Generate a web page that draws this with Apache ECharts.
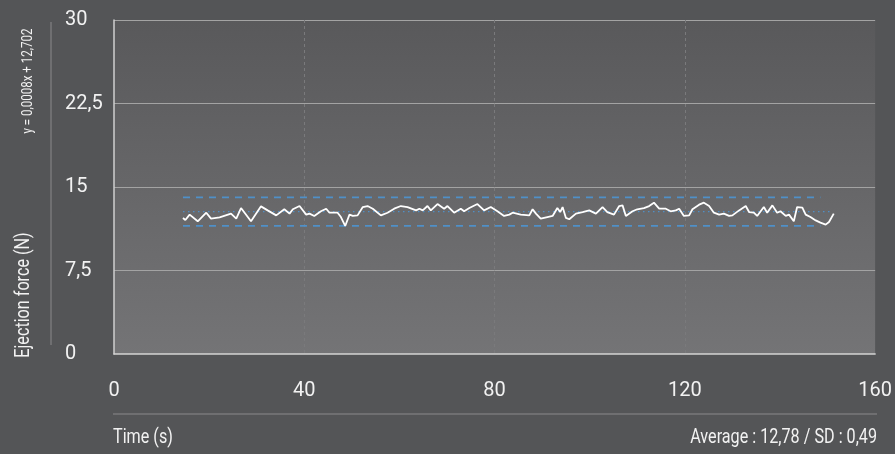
<!DOCTYPE html>
<html>
<head>
<meta charset="utf-8">
<script src="https://cdn.jsdelivr.net/npm/echarts@6/dist/echarts.min.js"></script>
<style>
  html, body { margin: 0; padding: 0; background: #545557; }
  #chart { width: 895px; height: 454px; }
</style>
</head>
<body>
<div id="chart"></div>
<script>
// Ejection force sampled over time (s, N)
const times = [
  14.5, 15.0, 15.9, 17.6, 19.4, 20.4, 22.2, 24.6, 25.7, 26.7, 28.8, 30.9, 32.3, 34.1, 35.8, 36.9,
  37.6, 39.0, 40.4, 41.1, 42.1, 43.5, 44.6, 45.3, 47.0, 47.7, 48.6, 49.5, 50.2, 51.2, 52.3, 53.3, 54.4, 56.1, 57.5, 58.9, 60.3,
  61.7, 63.5, 64.2, 64.9, 65.9, 66.6, 68.0, 69.4, 70.1, 71.5, 72.9, 73.6, 74.7, 76.4, 77.8, 79.2, 80.6, 82.0, 83.1, 83.8,
  85.5, 87.3, 88.0, 88.7, 89.7, 91.1, 92.2, 93.2, 93.8, 94.3, 95.0, 95.7, 97.1, 98.5, 99.9, 101.3, 102.7, 103.7, 105.1, 106.2, 106.9,
  107.6, 109.0, 110.0, 111.4, 112.5, 113.5, 114.6, 116.0, 117.0, 118.1, 118.8, 119.8, 120.9, 121.6, 123.0, 124.0, 125.1, 126.1, 127.2, 128.2, 129.3, 130.0,
  131.4, 132.8, 133.5, 134.5, 135.2, 136.6, 137.3, 138.4, 139.4, 140.1, 141.2, 141.9, 142.9, 143.6, 144.7, 145.4, 146.4, 147.5, 148.5, 149.6, 150.3, 151.3
];
const forces = [
  12.22, 12.04, 12.52, 11.92, 12.69, 12.16, 12.28, 12.61, 12.16, 13.11, 11.92, 13.26, 12.90, 12.45, 13.00, 12.61,
  13.00, 13.29, 12.52, 12.61, 12.40, 12.82, 13.05, 12.69, 12.69, 12.30, 11.50, 12.52, 12.40, 12.45, 13.20, 13.29, 13.05, 12.45, 12.69, 13.05, 13.29,
  13.20, 12.90, 13.05, 12.90, 13.29, 12.90, 13.47, 13.05, 13.29, 12.69, 13.05, 12.82, 13.11, 13.47, 12.90, 13.20, 12.82, 12.40, 12.52, 12.69,
  12.52, 12.45, 13.00, 12.61, 12.16, 12.30, 12.40, 13.11, 12.75, 13.20, 12.22, 12.10, 12.61, 12.75, 12.90, 12.61, 13.20, 12.75, 12.52, 13.29, 13.35,
  12.40, 12.82, 13.00, 13.11, 13.29, 13.59, 13.05, 13.05, 12.82, 12.90, 13.05, 12.40, 12.45, 13.00, 13.41, 13.59, 13.29, 12.69, 12.52, 12.61, 12.40, 12.45,
  12.90, 13.29, 12.75, 12.69, 12.40, 13.20, 12.69, 13.35, 12.69, 12.82, 12.40, 12.52, 11.92, 13.20, 13.14, 12.52, 12.30, 12.00, 11.80, 11.62, 11.86, 12.61
];

// Summary statistics and tolerance band (average ± 10 %)
const average = 12.78;
const sd = 0.49;
const upperLimit = 14.06;
const lowerLimit = 11.50;
const bandTimes = [14.5, 148.5];
const averageTimes = [14.5, 151.0];

// Axis ticks
const xTicks = [0, 40, 80, 120, 160];
const yTicks = [0, 7.5, 15, 22.5, 30];

const trendText = 'y = 0,0008x + 12,702';
const yTitle = 'Ejection force (N)';
const xTitle = 'Time (s)';
const statsText = 'Average : ' + average.toFixed(2).replace('.', ',') + ' / SD : ' + sd.toFixed(2).replace('.', ',');

const FAMILY = 'Roboto, "Liberation Sans", sans-serif';
const TEXT = '#f2f2f2';
const NARROW = 0.77; // horizontal squeeze for a condensed look
const fmt = v => String(v).replace('.', ',');
const font = size => size + 'px ' + FAMILY;

const chart = echarts.init(document.getElementById('chart'), null, { renderer: 'canvas' });

chart.setOption({
  backgroundColor: '#545557',
  animation: false,
  grid: {
    left: 114, right: 18, top: 20, bottom: 100,
    show: true,
    borderWidth: 0,
    backgroundColor: new echarts.graphic.LinearGradient(0, 0, 0, 1, [
      { offset: 0, color: '#59595b' },
      { offset: 1, color: '#747476' }
    ])
  },
  xAxis: {
    type: 'value',
    min: xTicks[0], max: xTicks[xTicks.length - 1], interval: 40,
    axisLine: { show: true, lineStyle: { color: '#d4d4d4', width: 1.5 } },
    axisTick: { show: false },
    splitLine: {
      show: true, showMinLine: false, showMaxLine: false,
      lineStyle: { color: '#7a7a7c', type: [3, 3], width: 1 }
    },
    axisLabel: {
      color: TEXT, fontFamily: FAMILY, fontSize: 20, margin: 27,
      formatter: v => fmt(v)
    }
  },
  yAxis: {
    type: 'value',
    min: yTicks[0], max: yTicks[yTicks.length - 1], interval: 7.5,
    axisLine: { show: true, lineStyle: { color: '#cfcfcf', width: 1.5 } },
    axisTick: { show: false },
    splitLine: { show: true, showMinLine: false, lineStyle: { color: '#a3a3a3', width: 1 } },
    axisLabel: {
      color: TEXT, fontFamily: FAMILY, fontSize: 20, margin: 49, align: 'left',
      formatter: v => fmt(v)
    }
  },
  series: [
    {
      name: 'upper',
      type: 'line',
      data: bandTimes.map(t => [t, upperLimit]),
      symbol: 'none',
      lineStyle: { color: '#4f90c8', width: 1.8, type: [7, 6] },
      silent: true
    },
    {
      name: 'lower',
      type: 'line',
      data: bandTimes.map(t => [t, lowerLimit]),
      symbol: 'none',
      lineStyle: { color: '#4f90c8', width: 1.8, type: [7, 6] },
      silent: true
    },
    {
      name: 'average',
      type: 'line',
      data: averageTimes.map(t => [t, average]),
      symbol: 'none',
      lineStyle: { color: '#4f90c8', width: 1.2, type: [1.5, 3.5] },
      silent: true
    },
    {
      name: 'force',
      type: 'line',
      data: times.map((t, i) => [t, forces[i]]),
      symbol: 'none',
      lineStyle: { color: '#ffffff', width: 1.8 },
      z: 5
    }
  ],
  graphic: [
    { type: 'line', shape: { x1: 51, y1: 22, x2: 51, y2: 345 }, style: { stroke: '#8a8a8c', lineWidth: 1 } },
    { type: 'line', shape: { x1: 113, y1: 414, x2: 877, y2: 414 }, style: { stroke: '#8a8a8c', lineWidth: 1 } },
    {
      type: 'text', x: 28, y: 81, rotation: Math.PI / 2, scaleX: NARROW,
      style: { text: trendText, fill: TEXT, font: font(15), textAlign: 'center', textVerticalAlign: 'middle' }
    },
    {
      type: 'text', x: 24, y: 295, rotation: Math.PI / 2, scaleX: NARROW,
      style: { text: yTitle, fill: TEXT, font: font(21), textAlign: 'center', textVerticalAlign: 'middle' }
    },
    {
      type: 'text', x: 113, y: 438, scaleX: NARROW,
      style: { text: xTitle, fill: TEXT, font: font(21), textAlign: 'left', textVerticalAlign: 'middle' }
    },
    {
      type: 'text', x: 877, y: 438, scaleX: NARROW,
      style: { text: statsText, fill: TEXT, font: font(21), textAlign: 'right', textVerticalAlign: 'middle' }
    }
  ]
});
</script>
</body>
</html>
